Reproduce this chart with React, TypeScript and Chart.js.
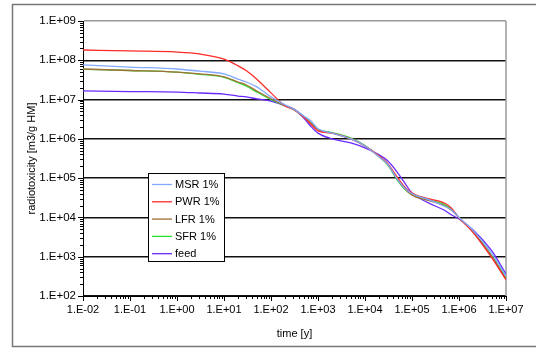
import React, { useEffect, useRef } from 'react';
import { Chart, registerables } from 'chart.js';

Chart.register(...registerables);

// time in years
const times = [0.01, 0.1, 1, 3, 10, 20, 30, 50, 100, 200, 300, 500, 700, 1000, 2000, 5000, 1e4, 2e4, 3e4, 5e4, 7e4, 1e5, 2e5, 5e5, 7e5, 1e6, 2e6, 5e6, 1e7];

// radiotoxicity [m3/g HM]
const msr = [7.6e7, 6.7e7, 6.0e7, 5.3e7, 4.5e7, 3.3e7, 2.8e7, 2.1e7, 1.17e7, 7.3e6, 5.8e6, 3.8e6, 2.9e6, 1.8e6, 1.4e6, 1.0e6, 6.6e5, 3.5e5, 2.3e5, 9.0e4, 5.6e4, 4.0e4, 3.0e4, 1.9e4, 1.55e4, 1.0e4, 4.6e3, 1.2e3, 3.2e2];
const pwr = [1.83e8, 1.73e8, 1.62e8, 1.45e8, 1.07e8, 7.2e7, 5.4e7, 3.3e7, 1.48e7, 6.9e6, 5.8e6, 3.6e6, 2.4e6, 1.6e6, 1.4e6, 1.0e6, 6.6e5, 3.7e5, 2.4e5, 1.0e5, 6.0e4, 4.2e4, 3.1e4, 2.3e4, 1.7e4, 9.8e3, 4.1e3, 9.3e2, 2.6e2];
const lfr = [6.0e7, 5.5e7, 5.0e7, 4.5e7, 3.8e7, 2.8e7, 2.35e7, 1.65e7, 1.05e7, 6.9e6, 5.5e6, 3.6e6, 2.5e6, 1.7e6, 1.4e6, 1.0e6, 6.6e5, 3.5e5, 2.3e5, 9.0e4, 5.4e4, 3.7e4, 2.8e4, 1.95e4, 1.5e4, 9.8e3, 4.3e3, 1.0e3, 2.7e2];
const sfr = [5.9e7, 5.5e7, 5.0e7, 4.4e7, 3.7e7, 2.7e7, 2.2e7, 1.55e7, 1.0e7, 7.0e6, 5.7e6, 3.7e6, 2.6e6, 1.75e6, 1.45e6, 1.05e6, 6.8e5, 3.5e5, 2.2e5, 8.5e4, 5.2e4, 3.8e4, 2.9e4, 2.1e4, 1.6e4, 1.0e4, 4.4e3, 1.05e3, 2.9e2];
const feed = [1.66e7, 1.6e7, 1.55e7, 1.47e7, 1.38e7, 1.23e7, 1.17e7, 1.04e7, 9.2e6, 6.9e6, 5.8e6, 3.4e6, 2.1e6, 1.4e6, 1.0e6, 7.9e5, 5.9e5, 3.9e5, 2.8e5, 1.35e5, 7.6e4, 4.2e4, 2.5e4, 1.5e4, 1.15e4, 9.1e3, 4.8e3, 1.4e3, 3.6e2];

const seriesLabels = ['MSR 1%', 'PWR 1%', 'LFR 1%', 'SFR 1%', 'feed'];
const seriesColors = ['#82a9ff', '#ff2a2a', '#a0703a', '#2ee02e', '#6a2aff'];

const xTickValues = [1e-2, 1e-1, 1e0, 1e1, 1e2, 1e3, 1e4, 1e5, 1e6, 1e7];
const yTickValues = [1e2, 1e3, 1e4, 1e5, 1e6, 1e7, 1e8, 1e9];

const xTitle = 'time [y]';
const yTitle = 'radiotoxicity [m3/g HM]';

const FONT = '"Liberation Sans", Arial, sans-serif';

const fmt = (v: number) => {
  const e = Math.round(Math.log10(v));
  return '1.E' + (e < 0 ? '-' : '+') + String(Math.abs(e)).padStart(2, '0');
};

export default function App() {
  const ref = useRef<HTMLCanvasElement>(null);

  useEffect(() => {
    if (!ref.current) return;
    const datasets = [msr, pwr, lfr, sfr, feed].map((arr, i) => ({
      label: seriesLabels[i],
      data: times.map((t, j) => ({ x: t, y: arr[j] })),
      borderColor: seriesColors[i],
      backgroundColor: seriesColors[i],
      borderWidth: 1.3,
      pointRadius: 0,
      cubicInterpolationMode: 'monotone',
      fill: false,
    }));

    const framePlugin = {
      id: 'frame',
      beforeDraw(c: any) {
        const ctx = c.ctx;
        ctx.save();
        ctx.fillStyle = '#fff';
        ctx.fillRect(0, 0, c.width, c.height);
        ctx.strokeStyle = '#777';
        ctx.lineWidth = 1.5;
        ctx.strokeRect(12.5, 4.5, 540, 342);
        ctx.restore();
      },
      beforeDatasetsDraw(c: any) {
        const { ctx, chartArea } = c;
        ctx.save();
        ctx.strokeStyle = '#999';
        ctx.lineWidth = 1.5;
        ctx.beginPath();
        ctx.moveTo(chartArea.right, chartArea.top);
        ctx.lineTo(chartArea.right, chartArea.bottom);
        ctx.stroke();
        ctx.restore();
      },
    };

    const minorPlugin = {
      id: 'minorTicks',
      afterDraw(c: any) {
        const ctx = c.ctx;
        const xs = c.scales.x;
        const ys = c.scales.y;
        const { left, bottom } = c.chartArea;
        ctx.save();
        ctx.strokeStyle = '#000';
        ctx.lineWidth = 1;
        ctx.beginPath();
        for (let e = 2; e <= 9; e++) {
          for (let k = 1; k <= 9; k++) {
            const v = k * Math.pow(10, e);
            if (v < 1e2 || v > 1e9 + 1) continue;
            const py = Math.round(ys.getPixelForValue(v)) + 0.5;
            const len = k === 1 ? 5 : 3;
            ctx.moveTo(left - len, py);
            ctx.lineTo(left, py);
          }
        }
        for (let e = -2; e <= 7; e++) {
          for (let k = 1; k <= 9; k++) {
            const v = k * Math.pow(10, e);
            if (v < 1e-2 || v > 1e7 * 1.0001) continue;
            const px = Math.round(xs.getPixelForValue(v)) + 0.5;
            const len = k === 1 ? 5 : 3;
            ctx.moveTo(px, bottom);
            ctx.lineTo(px, bottom + len);
          }
        }
        ctx.stroke();
        ctx.restore();
      },
    };

    const legendPlugin = {
      id: 'boxLegend',
      afterDraw(c: any) {
        const ctx = c.ctx;
        const bx = 148.5, by = 173.5, bw = 76, bh = 88;
        ctx.save();
        ctx.fillStyle = '#fff';
        ctx.fillRect(bx, by, bw, bh);
        ctx.strokeStyle = '#000';
        ctx.lineWidth = 1;
        ctx.strokeRect(bx, by, bw, bh);
        ctx.font = '11px ' + FONT;
        ctx.textBaseline = 'middle';
        c.data.datasets.forEach((ds: any, i: number) => {
          const y = 184.5 + i * 17.3;
          ctx.strokeStyle = ds.borderColor;
          ctx.lineWidth = 1.3;
          ctx.beginPath();
          ctx.moveTo(152, y);
          ctx.lineTo(172, y);
          ctx.stroke();
          ctx.fillStyle = '#000';
          ctx.fillText(ds.label, 175, y + 0.5);
        });
        ctx.restore();
      },
    };

    const chart = new Chart(ref.current, {
      type: 'line',
      data: { datasets },
      plugins: [framePlugin, minorPlugin, legendPlugin],
      options: {
        responsive: false,
        animation: false,
        layout: { padding: { left: 0, top: 21, right: 30, bottom: 0 } },
        plugins: { legend: { display: false }, tooltip: { enabled: false } },
        scales: {
          x: {
            type: 'logarithmic',
            min: 1e-2,
            max: 1e7,
            afterBuildTicks: (s: any) => {
              s.ticks = xTickValues.map((v) => ({ value: v }));
            },
            afterFit: (s: any) => {
              s.height = 52;
            },
            grid: { display: false, drawTicks: false },
            border: { display: true, color: '#000', width: 1 },
            ticks: {
              autoSkip: false,
              maxRotation: 0,
              padding: 7,
              color: '#000',
              font: { family: FONT, size: 11 },
              callback: (v: any) => fmt(Number(v)),
            },
            title: {
              display: true,
              text: xTitle,
              color: '#000',
              font: { family: FONT, size: 11 },
              padding: { top: 0, bottom: 7 },
            },
          },
          y: {
            type: 'logarithmic',
            min: 1e2,
            max: 1e9,
            afterBuildTicks: (s: any) => {
              s.ticks = yTickValues.map((v) => ({ value: v }));
            },
            afterFit: (s: any) => {
              s.width = 83;
            },
            grid: {
              drawTicks: false,
              lineWidth: 1.5,
              color: (ctx: any) => (ctx.tick && ctx.tick.value >= 1e9 ? '#999' : '#111'),
            },
            border: { display: true, color: '#000', width: 1 },
            ticks: {
              autoSkip: false,
              padding: 7,
              color: '#000',
              font: { family: FONT, size: 11.5 },
              callback: (v: any) => fmt(Number(v)),
            },
            title: {
              display: true,
              text: yTitle,
              color: '#000',
              font: { family: FONT, size: 11 },
              padding: { top: 25, bottom: 0 },
            },
          },
        },
      },
    } as any);
    return () => chart.destroy();
  }, []);

  return (
    <div style={{ position: 'fixed', left: 0, top: 0, width: 536, height: 348, background: '#fff' }}>
      <canvas ref={ref} width={536} height={348} style={{ display: 'block', width: 536, height: 348 }} />
    </div>
  );
}
